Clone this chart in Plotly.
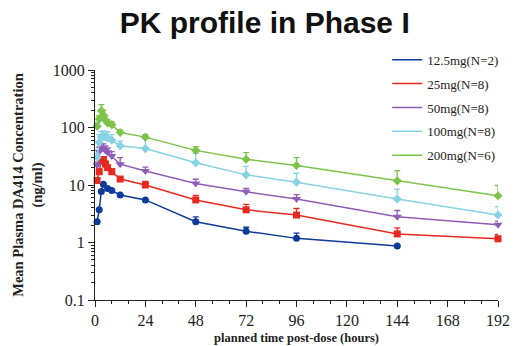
import plotly.graph_objects as go

# ---- data ----
t_main = [1, 2, 3, 4, 5, 6, 8, 12, 24, 48, 72, 96, 144, 192]
t_low = [1, 2, 3, 4, 6, 8, 12, 24, 48, 72, 96, 144]

dose_names = ["12.5mg(N=2)", "25mg(N=8)", "50mg(N=8)", "100mg(N=8)", "200mg(N=6)"]

mean_12_5 = [2.3, 3.7, 7.7, 10.3, 8.7, 8.0, 6.7, 5.5, 2.3, 1.57, 1.18, 0.87]
sd_12_5 = [0, 0, 0, 0, 0, 0, 0, 0, 0.5, 0.27, 0.27, 0]

mean_25 = [12, 17, 26, 27.5, 23, 20, 17, 12.7, 10, 5.5, 3.7, 3.0, 1.41, 1.16]
sd_25 = [1, 2, 4, 3.5, 3, 2, 2, 1.3, 1.5, 1.1, 0.9, 0.9, 0.39, 0.23]

mean_50 = [22, 38, 44, 43, 40, 37, 32, 23, 17.5, 10.6, 7.6, 5.7, 2.8, 2.03]
sd_50 = [3, 7, 8, 9, 8, 7, 6, 7, 3, 2.0, 1.1, 1.1, 0.8, 0.32]

mean_100 = [30, 55, 68, 70, 68, 66, 60, 48, 43, 24.3, 15, 11.2, 5.7, 3.0]
sd_100 = [5, 20, 17, 17, 17, 17, 15, 10, 22, 11.3, 6, 4.8, 2.8, 1.2]

mean_200 = [105, 140, 195, 165, 135, 120, 112, 82, 68, 40, 28, 21.8, 11.8, 6.5]
sd_200 = [15, 20, 55, 35, 25, 15, 13, 8, 7, 6.6, 8.7, 8.2, 5.9, 3.3]

x_ticks = [0, 24, 48, 72, 96, 120, 144, 168, 192]
y_ticks = [0.1, 1, 10, 100, 1000]
y_ticklabels = ["0.1", "1", "10", "100", "1000"]

colors = ["#0d3b9c", "#e8291f", "#8f5db8", "#86d3e3", "#7cc449"]
symbols = ["circle", "square", "triangle-down", "diamond", "diamond"]

series = [
    (t_low, mean_12_5, sd_12_5),
    (t_main, mean_25, sd_25),
    (t_main, mean_50, sd_50),
    (t_main, mean_100, sd_100),
    (t_main, mean_200, sd_200),
]

fig = go.Figure()
for (tx, m, sd), c, s in zip(series, colors, symbols):
    fig.add_trace(go.Scatter(
        x=tx, y=m, mode="lines+markers", showlegend=False, cliponaxis=False,
        line=dict(color=c, width=1.5),
        marker=dict(color=c, symbol=s, size=7 if s != "triangle-down" else 8),
        error_y=dict(type="data", symmetric=False, array=sd,
                     arrayminus=[0] * len(sd), color=c, thickness=1.3, width=3),
    ))

# legend entries: line samples only
for i, (name, c) in enumerate(zip(dose_names, colors)):
    fig.add_trace(go.Scatter(
        x=[None], y=[None], mode="lines", name=name,
        line=dict(color=c, width=1.5), legendgroup=str(i),
    ))

serif = "Liberation Serif, Times New Roman, serif"

fig.update_layout(
    width=514, height=346,
    margin=dict(l=95, r=16, t=70, b=46, autoexpand=False),
    paper_bgcolor="white", plot_bgcolor="white",
    title=dict(text="<b>PK profile in Phase I</b>",
               font=dict(family="Liberation Sans, Arial, sans-serif", size=30, color="#111"),
               x=0.515, xanchor="center", y=0.965, yanchor="top"),
    legend=dict(x=0.725, xanchor="left", y=1.11, yanchor="top",
                font=dict(family=serif, size=13, color="#222"),
                tracegroupgap=4, itemwidth=30, bgcolor="rgba(0,0,0,0)"),
    showlegend=True,
)

fig.update_xaxes(
    range=[0, 192], tickvals=x_ticks, showgrid=False, zeroline=False,
    showline=True, linecolor="#222", linewidth=1.2,
    ticks="outside", ticklen=6, tickwidth=1.2, tickcolor="#222",
    minor=dict(dtick=8, ticks="outside", ticklen=3, tickcolor="#222", showgrid=False),
    tickfont=dict(family=serif, size=16, color="#222"),
    title=dict(text="<b>planned time post-dose (hours)</b>",
               font=dict(family=serif, size=12.5, color="#222"), standoff=4),
)

fig.update_yaxes(
    type="log", range=[-1, 3], tickvals=y_ticks, ticktext=y_ticklabels,
    showgrid=False, zeroline=False,
    showline=True, linecolor="#222", linewidth=1.2,
    ticks="outside", ticklen=6, tickwidth=1.2, tickcolor="#222",
    minor=dict(dtick="D1", ticks="outside", ticklen=3, tickcolor="#222", showgrid=False),
    tickfont=dict(family=serif, size=16, color="#222"),
    title=dict(text="<b>Mean Plasma DA414 Concentration<br>(ng/ml)</b>",
               font=dict(family=serif, size=14.5, color="#222"), standoff=6),
)

fig.write_html(
    "out.html",
    config={"displayModeBar": False},
    post_script="document.body.style.margin='0';document.body.style.overflow='hidden';",
)
